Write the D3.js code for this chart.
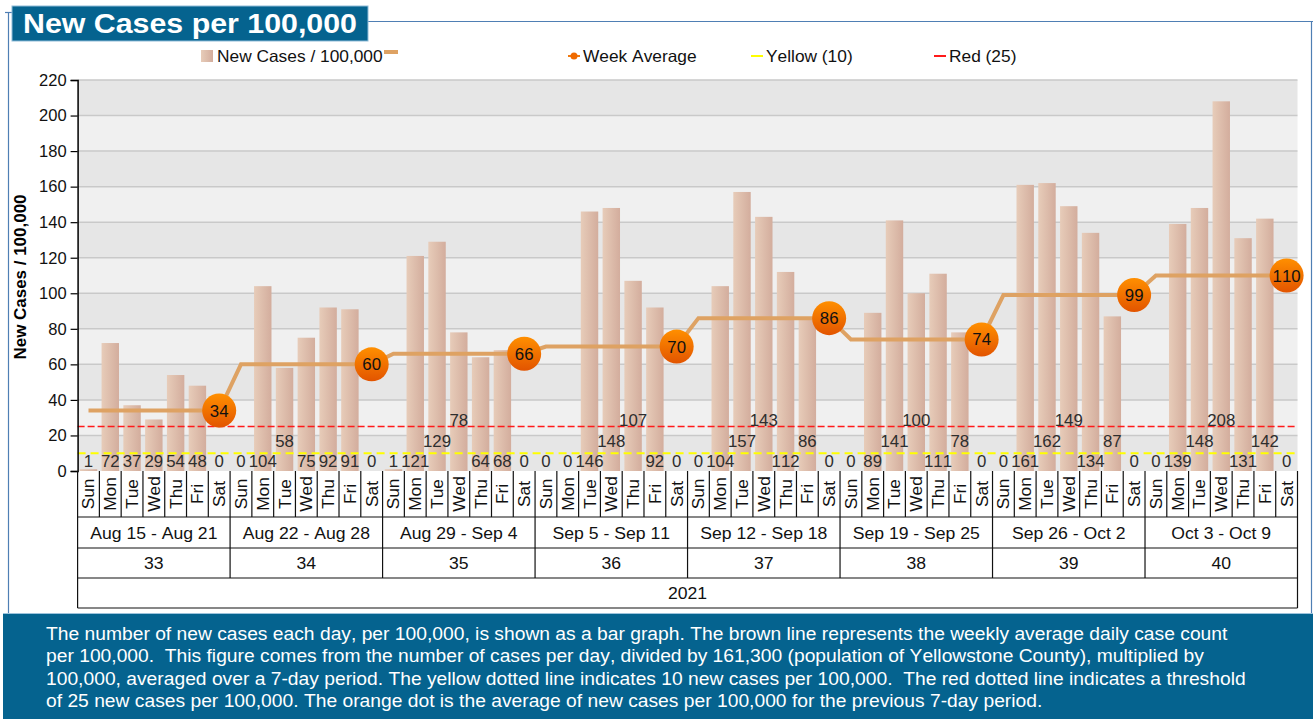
<!DOCTYPE html>
<html>
<head>
<meta charset="utf-8">
<script src="https://cdn.jsdelivr.net/npm/d3@7"></script>
<style>
  body { margin: 0; background: #fff; }
  text { font-family: "Liberation Sans", Arial, sans-serif; font-kerning: none; }
</style>
</head>
<body>
<div id="chart"></div>
<script>
// chart values
var dayNames = ["Sun", "Mon", "Tue", "Wed", "Thu", "Fri", "Sat"]
var weekRanges = ["Aug 15 - Aug 21", "Aug 22 - Aug 28", "Aug 29 - Sep 4", "Sep 5 - Sep 11",
  "Sep 12 - Sep 18", "Sep 19 - Sep 25", "Sep 26 - Oct 2", "Oct 3 - Oct 9"]
var weekNumbers = [33, 34, 35, 36, 37, 38, 39, 40]
var yearLabel = "2021"
var dailyCases = [
  1, 72, 37, 29, 54, 48, 0,
  0, 104, 58, 75, 92, 91, 0,
  1, 121, 129, 78, 64, 68, 0,
  0, 0, 146, 148, 107, 92, 0,
  0, 104, 157, 143, 112, 86, 0,
  0, 89, 141, 100, 111, 78, 0,
  0, 161, 162, 149, 134, 87, 0,
  0, 139, 148, 208, 131, 142, 0
]
var weekAverage = [34, 60, 66, 70, 86, 74, 99, 110]
var yellowLevel = 10
var redLevel = 25
var yTicks = [0, 20, 40, 60, 80, 100, 120, 140, 160, 180, 200, 220]
var legendItems = ["New Cases / 100,000", "", "Week Average", "Yellow (10)", "Red (25)"]
var noteLines = [
  "The number of new cases each day, per 100,000, is shown as a bar graph. The brown line represents the weekly average daily case count",
  "per 100,000.  This figure comes from the number of cases per day, divided by 161,300 (population of Yellowstone County), multiplied by",
  "100,000, averaged over a 7-day period. The yellow dotted line indicates 10 new cases per 100,000.  The red dotted line indicates a threshold",
  "of 25 new cases per 100,000. The orange dot is the average of new cases per 100,000 for the previous 7-day period."
]

var W = 1313, H = 719
var plot = { left: 77.6, right: 1297.5, top: 80, bottom: 471 }
var frameBlue = "#4f7fb4", boxBlue = "#05638f"

// the source renders text a little wider than Liberation Sans does
function widen(sel, k) {
  sel.each(function () {
    d3.select(this)
      .attr("textLength", this.getComputedTextLength() * k)
      .attr("lengthAdjust", "spacingAndGlyphs")
  })
}

var svg = d3.select("#chart").append("svg")
  .attr("width", W).attr("height", H)
  .style("display", "block")

var defs = svg.append("defs")
var barGrad = defs.append("linearGradient").attr("id", "barGrad")
barGrad.append("stop").attr("offset", "0%").attr("stop-color", "#e7ccb9")
barGrad.append("stop").attr("offset", "100%").attr("stop-color", "#d3ad9d")
var dotGrad = defs.append("linearGradient").attr("id", "dotGrad")
  .attr("x1", 0).attr("y1", 0).attr("x2", 0).attr("y2", 1)
dotGrad.append("stop").attr("offset", "0%").attr("stop-color", "#ff8f00")
dotGrad.append("stop").attr("offset", "100%").attr("stop-color", "#e25400")

// frame
svg.append("line").attr("x1", 8.5).attr("x2", 8.5).attr("y1", 12).attr("y2", 613)
  .attr("stroke", frameBlue).attr("stroke-width", 1.2)
svg.append("line").attr("x1", 5).attr("x2", 12).attr("y1", 12.5).attr("y2", 12.5)
  .attr("stroke", frameBlue).attr("stroke-width", 1.2)
svg.append("line").attr("x1", 368).attr("x2", W).attr("y1", 21.5).attr("y2", 21.5)
  .attr("stroke", frameBlue).attr("stroke-width", 1.2)
svg.append("line").attr("x1", W - 1.5).attr("x2", W - 1.5).attr("y1", 21.5).attr("y2", 613)
  .attr("stroke", frameBlue).attr("stroke-width", 1.2)

// title
svg.append("rect").attr("x", 12).attr("y", 6).attr("width", 356).attr("height", 35)
  .attr("fill", boxBlue).attr("stroke", "#8fbcd8").attr("stroke-width", 1)
svg.append("text").attr("x", 23).attr("y", 33)
  .attr("fill", "#fff").attr("font-size", 27).attr("font-weight", "bold")
  .attr("textLength", 334).attr("lengthAdjust", "spacingAndGlyphs")
  .text("New Cases per 100,000")

// scales
var x = d3.scaleBand().domain(d3.range(dailyCases.length))
  .range([plot.left, plot.right]).paddingInner(0.2).paddingOuter(0.1)
var step = x.step()
var cx = function (i) { return x(i) + x.bandwidth() / 2 }
var y = d3.scaleLinear().domain([0, 220]).range([plot.bottom, plot.top])

// interlaced bands
var g = svg.append("g")
g.selectAll(".band").data(d3.pairs(yTicks)).enter().append("rect")
  .attr("x", plot.left).attr("width", plot.right - plot.left)
  .attr("y", function (d) { return y(d[1]) })
  .attr("height", function (d) { return y(d[0]) - y(d[1]) })
  .attr("fill", function (d, i) { return i % 2 === 0 ? "#e6e6e6" : "#f0f0f0" })

g.selectAll(".grid").data(yTicks.slice(1)).enter().append("line")
  .attr("x1", plot.left).attr("x2", plot.right)
  .attr("y1", function (d) { return y(d) }).attr("y2", function (d) { return y(d) })
  .attr("stroke", "#c9c9c9").attr("stroke-width", 1.5)

// bars
g.selectAll(".bar").data(dailyCases).enter().append("rect")
  .attr("x", function (d, i) { return x(i) })
  .attr("width", x.bandwidth())
  .attr("y", function (d) { return y(d) })
  .attr("height", function (d) { return y(0) - y(d) })
  .attr("fill", "url(#barGrad)")

// thresholds
g.append("line").attr("x1", plot.left).attr("x2", plot.right)
  .attr("y1", y(yellowLevel)).attr("y2", y(yellowLevel))
  .attr("stroke", "#ffff00").attr("stroke-width", 2).attr("stroke-dasharray", "8,5")
g.append("line").attr("x1", plot.left).attr("x2", plot.right)
  .attr("y1", y(redLevel)).attr("y2", y(redLevel))
  .attr("stroke", "#ff1a1a").attr("stroke-width", 1.6).attr("stroke-dasharray", "7,3")

// value labels, lifted one row above a neighbour they would overlap
var labelK = 1.05
var labels = g.selectAll(".vlabel").data(dailyCases).enter().append("text")
  .attr("class", "vlabel")
  .attr("x", function (d, i) { return cx(i) })
  .attr("text-anchor", "middle")
  .attr("font-size", 16).attr("fill", "#2e2e2e")
  .text(function (d) { return d })
widen(labels, labelK)
var digitW = labels.node().getComputedTextLength() * labelK
var placed = []
labels.each(function (d, i) {
  var w = String(d).length * digitW
  var row = 1
  placed.forEach(function (p) {
    if (Math.abs(p.cx - cx(i)) < (p.w + w) / 2) row = Math.max(row, p.row + 1)
  })
  if (row > 3) row = 1
  placed.push({ cx: cx(i), w: w, row: row })
  d3.select(this).attr("y", 467 - (row - 1) * 20.5)
})

// weekly average line
var avgLine = d3.line()
  .x(function (d, i) { return cx(i) })
  .y(function (d, i) { return y(weekAverage[Math.floor(i / 7)]) })
g.append("path").datum(dailyCases).attr("d", avgLine)
  .attr("fill", "none").attr("stroke", "#dea263").attr("stroke-width", 4)

var dots = g.selectAll(".dot").data(weekAverage).enter().append("g")
  .attr("transform", function (d, i) { return "translate(" + cx(i * 7 + 6) + "," + y(d) + ")" })
dots.append("circle").attr("r", 17).attr("fill", "url(#dotGrad)")
widen(dots.append("text").attr("text-anchor", "middle").attr("dy", 6)
  .attr("font-size", 16).attr("fill", "#111").text(function (d) { return d }), 1.05)

// y axis
var yAxis = svg.append("g").attr("transform", "translate(" + plot.left + ",0)")
  .call(d3.axisLeft(y).tickValues(yTicks).tickSize(7).tickPadding(4))
yAxis.select(".domain").attr("stroke", "#000").attr("stroke-width", 1.5)
yAxis.selectAll(".tick line").attr("stroke", "#000").attr("stroke-width", 1.2)
yAxis.selectAll(".tick text").attr("font-size", 16.5).attr("fill", "#111")
  .style("font-family", "Liberation Sans, Arial, sans-serif")

svg.append("text")
  .attr("transform", "translate(26,277) rotate(-90)")
  .attr("text-anchor", "middle").attr("font-size", 16).attr("font-weight", "bold")
  .attr("textLength", 165).attr("lengthAdjust", "spacingAndGlyphs")
  .text("New Cases / 100,000")

// multi-level category table
var rowY = [471, 517, 548, 578, 608]
var tbl = svg.append("g").attr("stroke", "#111").attr("stroke-width", 1.2)
tbl.selectAll(".hline").data(rowY.slice(1)).enter().append("line")
  .attr("x1", plot.left).attr("x2", plot.right)
  .attr("y1", function (d) { return d }).attr("y2", function (d) { return d })
tbl.selectAll(".dline").data(d3.range(dailyCases.length + 1)).enter().append("line")
  .attr("x1", function (i) { return plot.left + i * step }).attr("x2", function (i) { return plot.left + i * step })
  .attr("y1", rowY[0]).attr("y2", function (i) {
    if (i === 0 || i === dailyCases.length) return rowY[4]
    return i % 7 === 0 ? rowY[3] : rowY[1]
  })

widen(svg.selectAll(".day").data(dailyCases).enter().append("text")
  .attr("transform", function (d, i) { return "translate(" + (cx(i) + 6) + "," + (rowY[0] + rowY[1]) / 2 + ") rotate(-90)" })
  .attr("text-anchor", "middle").attr("font-size", 16).attr("fill", "#111")
  .text(function (d, i) { return dayNames[i % 7] }), 1.08)

widen(svg.selectAll(".wrange").data(weekRanges).enter().append("text")
  .attr("x", function (d, i) { return plot.left + (i * 7 + 3.5) * step })
  .attr("y", (rowY[1] + rowY[2]) / 2 + 6)
  .attr("text-anchor", "middle").attr("font-size", 16).attr("fill", "#111")
  .text(function (d) { return d }), 1.1)

widen(svg.selectAll(".wnum").data(weekNumbers).enter().append("text")
  .attr("x", function (d, i) { return plot.left + (i * 7 + 3.5) * step })
  .attr("y", (rowY[2] + rowY[3]) / 2 + 6)
  .attr("text-anchor", "middle").attr("font-size", 16).attr("fill", "#111")
  .text(function (d) { return d }), 1.1)

widen(svg.append("text").attr("x", (plot.left + plot.right) / 2).attr("y", (rowY[3] + rowY[4]) / 2 + 6)
  .attr("text-anchor", "middle").attr("font-size", 16).attr("fill", "#111")
  .text(yearLabel), 1.1)

// legend
var legendX = [201, 384, 568, 751, 934]
var lg = svg.append("g")
lg.append("rect").attr("x", legendX[0]).attr("y", 50).attr("width", 12).attr("height", 12)
  .attr("fill", "url(#barGrad)")
lg.append("line").attr("x1", legendX[1]).attr("x2", legendX[1] + 14).attr("y1", 52).attr("y2", 52)
  .attr("stroke", "#dea263").attr("stroke-width", 4)
lg.append("line").attr("x1", legendX[2]).attr("x2", legendX[2] + 12).attr("y1", 56).attr("y2", 56)
  .attr("stroke", "#f07a10").attr("stroke-width", 2)
lg.append("circle").attr("cx", legendX[2] + 6).attr("cy", 56).attr("r", 3.5).attr("fill", "#f06a00")
lg.append("line").attr("x1", legendX[3]).attr("x2", legendX[3] + 12).attr("y1", 56).attr("y2", 56)
  .attr("stroke", "#ffff00").attr("stroke-width", 2)
lg.append("line").attr("x1", legendX[4]).attr("x2", legendX[4] + 12).attr("y1", 56).attr("y2", 56)
  .attr("stroke", "#ff1a1a").attr("stroke-width", 2)
widen(lg.selectAll(".ltext").data(legendItems.filter(function (d) { return d !== "" })).enter().append("text")
  .attr("x", function (d) { var i = legendItems.indexOf(d); return legendX[i] + (i === 0 ? 16 : 15) })
  .attr("y", 62).attr("font-size", 16.5).attr("fill", "#111")
  .text(function (d) { return d }), 1.05)

// note box
svg.append("rect").attr("x", 3).attr("y", 613).attr("width", W - 3).attr("height", H - 613)
  .attr("fill", boxBlue)
svg.append("line").attr("x1", 3).attr("x2", W).attr("y1", 613.5).attr("y2", 613.5)
  .attr("stroke", "#9cc3dc").attr("stroke-width", 1)
widen(svg.selectAll(".note").data(noteLines).enter().append("text")
  .attr("x", 46).attr("y", function (d, i) { return 640 + i * 22.3 })
  .attr("font-size", 17.5).attr("fill", "#fff")
  .style("white-space", "pre")
  .text(function (d) { return d }), 1.1)
</script>
</body>
</html>
